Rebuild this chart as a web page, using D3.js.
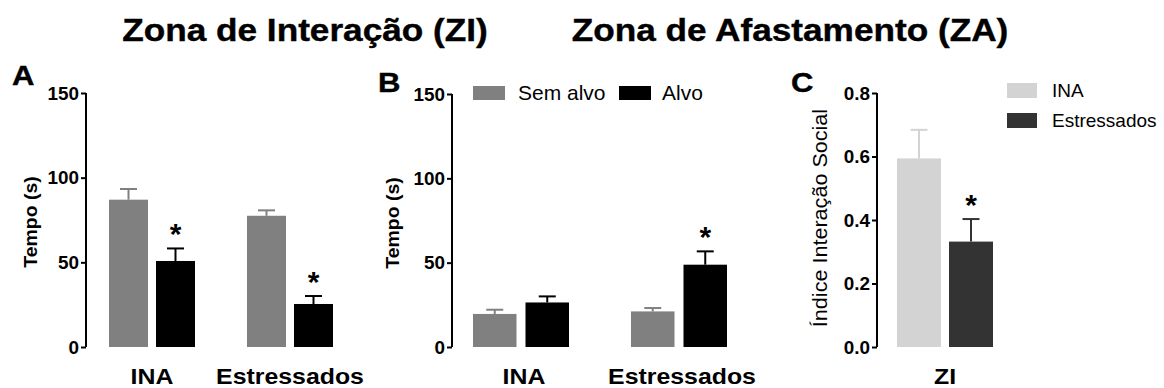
<!DOCTYPE html>
<html>
<head>
<meta charset="utf-8">
<script src="https://cdn.jsdelivr.net/npm/d3@7"></script>
<style>
  html, body { margin: 0; padding: 0; background: #fff; }
  svg { display: block; font-family: "Liberation Sans", Arial, sans-serif; }
</style>
</head>
<body>
<svg id="chart" width="1164" height="388"></svg>
<script>
// ---------- DATA ----------
const groupsAB = ["INA", "Estressados"];
const seriesAB = ["Sem alvo", "Alvo"];
const ticksAB = [0, 50, 100, 150];

// Panel A: Zona de Interação (ZI)
const ziSemAlvo = [87.0, 77.5];
const ziSemAlvoErr = [6.3, 3.2];
const ziAlvo = [50.8, 25.4];
const ziAlvoErr = [7.4, 4.7];
const ziAlvoSig = [true, true];

// Panel B: Zona de Afastamento (ZA)
const zaSemAlvo = [19.6, 21.1];
const zaSemAlvoErr = [2.5, 2.0];
const zaAlvo = [26.4, 48.8];
const zaAlvoErr = [3.6, 7.9];
const zaAlvoSig = [false, true];

// Panel C: Índice de Interação Social
const groupsC = ["ZI"];
const seriesC = ["INA", "Estressados"];
const indexMean = [0.594, 0.332];
const indexErr = [0.090, 0.071];
const indexSig = [false, true];
const ticksC = [0, 0.2, 0.4, 0.6, 0.8];

const titles = ["Zona de Interação (ZI)", "Zona de Afastamento (ZA)"];

// ---------- STYLE ----------
const FONT = "'Liberation Sans', Arial, sans-serif";
const colorsAB = ["#808080", "#000000"];
const colorsC = ["#d3d3d3", "#333333"];

const svg = d3.select("#chart");
svg.append("rect").attr("width", 1164).attr("height", 388).attr("fill", "#fff");

function txt(g, o) {
  const t = g.append("text")
    .attr("transform", `translate(${o.x},${o.y}) rotate(${o.rotate || 0}) scale(${o.sx || 1},1)`)
    .attr("font-family", FONT)
    .attr("font-size", o.size)
    .attr("font-weight", o.weight || "normal")
    .attr("text-anchor", o.anchor || "start")
    .attr("fill", o.fill || "#000")
    .text(o.text);
  if (o.stroke) t.attr("stroke", o.fill || "#000").attr("stroke-width", o.stroke);
  return t;
}

// Titles
txt(svg, {x: 305, y: 41, text: titles[0], size: 32, weight: "bold", anchor: "middle", sx: 1.1, stroke: 0.4});
txt(svg, {x: 790, y: 41, text: titles[1], size: 32, weight: "bold", anchor: "middle", sx: 1.1, stroke: 0.4});

// ---------- PANEL BUILDER ----------
function panel(cfg) {
  const g = svg.append("g");
  const y = d3.scaleLinear().domain(cfg.domain).range([cfg.yBottom, cfg.yTop]);
  const n = cfg.groups.length;
  const x = d3.scaleBand().domain(cfg.groups)
    .range([cfg.x0, cfg.x0 + cfg.step * (n - 1) + cfg.bw])
    .paddingInner(n > 1 ? 1 - cfg.bw / cfg.step : 0).paddingOuter(0);
  const xs = d3.scaleBand().domain(cfg.series)
    .range([0, cfg.bw])
    .paddingInner(2 * cfg.gap / (cfg.bw + cfg.gap)).paddingOuter(0);

  // Y axis
  const ax = g.append("g").attr("transform", `translate(${cfg.axisX},0)`)
    .call(d3.axisLeft(y).tickValues(cfg.ticks).tickFormat(cfg.fmt).tickSize(5).tickPadding(4));
  ax.select(".domain").attr("stroke", "#000").attr("stroke-width", 2).attr("d", `M0,${cfg.yBottom}V${cfg.yTop}`);
  ax.selectAll(".tick line").attr("stroke", "#000").attr("stroke-width", 2);
  ax.selectAll(".tick text").remove();
  cfg.ticks.forEach(v => {
    txt(g, {x: cfg.axisX - 7, y: y(v) + 6.5, text: cfg.fmt(v), size: 17.5, weight: "bold", anchor: "end", sx: 1.08});
  });

  // Bars
  cfg.series.forEach((s, si) => {
    const vals = cfg.values[si], errs = cfg.errors[si];
    const color = cfg.colors[si];
    cfg.groups.forEach((grp, gi) => {
      const bx = x(grp) + xs(s), bw = xs.bandwidth();
      const cx = bx + bw / 2;
      g.append("rect").attr("x", bx).attr("y", y(vals[gi]))
        .attr("width", bw).attr("height", y(0) - y(vals[gi])).attr("fill", color);
      const top = y(vals[gi] + errs[gi]);
      g.append("line").attr("x1", cx).attr("x2", cx).attr("y1", y(vals[gi])).attr("y2", top)
        .attr("stroke", color).attr("stroke-width", 2);
      g.append("line").attr("x1", cx - 8.5).attr("x2", cx + 8.5).attr("y1", top).attr("y2", top)
        .attr("stroke", color).attr("stroke-width", 2);
      if (cfg.sig[si] && cfg.sig[si][gi]) {
        txt(g, {x: cx, y: top - 4, text: "*", size: 30, weight: "bold", anchor: "middle"});
      }
    });
  });

  // Category labels
  cfg.groups.forEach(grp => {
    txt(g, {x: x(grp) + x.bandwidth() / 2 + (cfg.labelDx || 0), y: 384, text: grp, size: 22, weight: "bold", anchor: "middle", sx: 1.13});
  });

  // Y label
  txt(g, {x: cfg.ylabX, y: cfg.ylabY, text: cfg.ylabel, size: cfg.ylabSize, weight: cfg.ylabWeight,
           anchor: "middle", rotate: -90, sx: cfg.ylabSx});

  // Panel letter
  txt(g, {x: cfg.letterX, y: cfg.letterY, text: cfg.letter, size: 27, weight: "bold", sx: 1.15, stroke: 0.4});
  return {g, x, y};
}

panel({
  letter: "A", letterX: 12, letterY: 85,
  groups: groupsAB, series: seriesAB, colors: colorsAB,
  values: [ziSemAlvo, ziAlvo], errors: [ziSemAlvoErr, ziAlvoErr], sig: [null, ziAlvoSig],
  domain: [0, 150], ticks: ticksAB, fmt: d3.format("d"),
  axisX: 86, yTop: 93, yBottom: 347,
  x0: 109, bw: 86, step: 138, gap: 8,
  ylabel: "Tempo (s)", ylabX: 37, ylabY: 222, ylabSize: 18, ylabWeight: "bold", ylabSx: 1.08
});

panel({
  letter: "B", letterX: 378, letterY: 92,
  groups: groupsAB, series: seriesAB, colors: colorsAB,
  values: [zaSemAlvo, zaAlvo], errors: [zaSemAlvoErr, zaAlvoErr], sig: [null, zaAlvoSig],
  domain: [0, 150], ticks: ticksAB, fmt: d3.format("d"),
  axisX: 452, yTop: 94, yBottom: 347,
  x0: 473, bw: 96, step: 158, gap: 9, labelDx: 3,
  ylabel: "Tempo (s)", ylabX: 399, ylabY: 223, ylabSize: 18, ylabWeight: "bold", ylabSx: 1.08
});

panel({
  letter: "C", letterX: 791, letterY: 92,
  groups: groupsC, series: seriesC, colors: colorsC,
  values: [[indexMean[0]], [indexMean[1]]], errors: [[indexErr[0]], [indexErr[1]]], sig: [[indexSig[0]], [indexSig[1]]],
  domain: [0, 0.8], ticks: ticksC, fmt: d3.format(".1f"),
  axisX: 877, yTop: 93, yBottom: 347,
  x0: 897, bw: 96, step: 96, gap: 8,
  ylabel: "Índice Interação Social", ylabX: 827, ylabY: 218, ylabSize: 20, ylabWeight: "normal", ylabSx: 1.08
});

// Legends
const legB = svg.append("g");
const legBX = [473, 619], legBText = [518, 662];
seriesAB.forEach((s, i) => {
  legB.append("rect").attr("x", legBX[i]).attr("y", 86).attr("width", 32).attr("height", 14).attr("fill", colorsAB[i]);
  txt(legB, {x: legBText[i], y: 99.5, text: s, size: 20, weight: "normal", sx: 1.05});
});
const legC = svg.append("g");
const legCY = [83, 113];
seriesC.forEach((s, i) => {
  legC.append("rect").attr("x", 1007).attr("y", legCY[i]).attr("width", 30).attr("height", 15).attr("fill", colorsC[i]);
  txt(legC, {x: 1052, y: legCY[i] + 14, text: s, size: 19, weight: "normal", sx: 1.0});
});
</script>
</body>
</html>
